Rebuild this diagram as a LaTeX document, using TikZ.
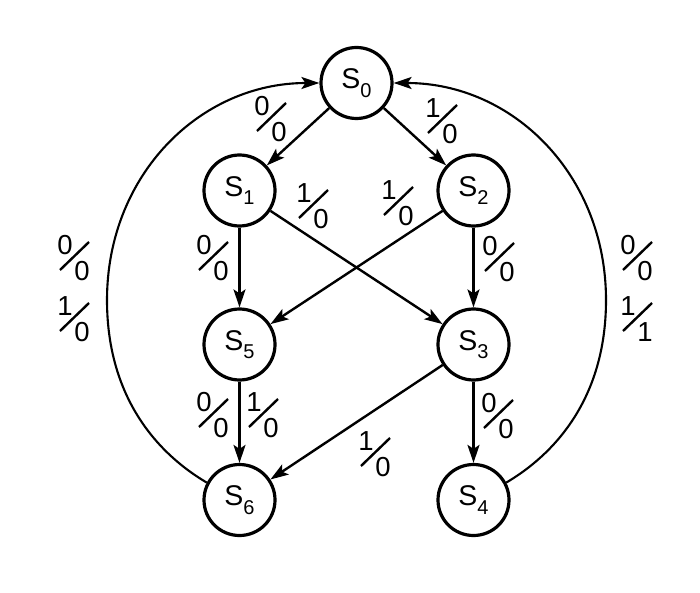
\documentclass[tikz,border=0pt]{standalone}
\usepackage{fontspec}
\setmainfont{Liberation Sans}
\usetikzlibrary{arrows.meta}
\newcommand\fraclab[5]{%
  \begin{scope}[shift={(#2,#3)}]
    \node[dig] (#1n) at (-9,-12) {#4};
    \node[dig] (#1d) at (8,14) {#5};
    \draw[slash] (-14,13) -- (15,-15);
  \end{scope}}
\newcommand\subidx[1]{\raisebox{-8.5pt}{\fontsize{20}{20}\selectfont #1}}
\tikzset{
  state/.style={circle, draw, line width=3.2pt, minimum size=71pt, inner sep=0pt,
    font=\fontsize{28.5}{28.5}\selectfont},
  dig/.style={inner sep=0pt, font=\fontsize{27.5}{27.5}\selectfont},
  slash/.style={line width=2.4pt},
  arr/.style={line width=2.4pt, -{Stealth[length=18pt,width=12pt,inset=4pt]}},
  arcline/.style={line width=2.1pt, -{Stealth[length=18pt,width=12pt,inset=4pt]}}
}
\begin{document}
\begin{tikzpicture}[x=1pt,y=-1pt]
\useasboundingbox (0,0) rectangle (700,593);
\node[state] (S0) at (356.5,83) {S\subidx{0}};
\node[state] (S1) at (239.5,190.5) {S\subidx{1}};
\node[state] (S2) at (473.5,190.5) {S\subidx{2}};
\node[state] (S5) at (239.5,344.5) {S\subidx{5}};
\node[state] (S3) at (473.5,344.5) {S\subidx{3}};
\node[state] (S6) at (239.5,500) {S\subidx{6}};
\node[state] (S4) at (473.5,500) {S\subidx{4}};

\draw[arr] (S0) -- (S1);
\draw[arr] (S0) -- (S2);
\draw[arr] (S1) -- (S5);
\draw[arr] (S2) -- (S3);
\draw[arr] (S1) -- (S3);
\draw[arr] (S2) -- (S5);
\draw[arr] (S5) -- (S6);
\draw[arr] (S3) -- (S4);
\draw[arr] (S3) -- (S6);
\draw[arcline] (S6.152) .. controls (160,455) and (107,400) .. (107,300)
  .. controls (107,175) and (200,83) .. (S0.west);
\draw[arcline] (S4.28) .. controls (553,455) and (606,400) .. (606,300)
  .. controls (606,175) and (513,83) .. (S0.east);

\fraclab{la}{271}{118}{0}{0}
\fraclab{lb}{442}{120}{1}{0}
\fraclab{lc}{313}{205}{1}{0}
\fraclab{ld}{398}{202}{1}{0}
\fraclab{le}{213}{257}{0}{0}
\fraclab{lf}{499}{258}{0}{0}
\fraclab{lg}{74}{257}{0}{0}
\fraclab{lh}{74}{318}{1}{0}
\fraclab{li}{637}{257}{0}{0}
\fraclab{lj}{637}{318}{1}{1}
\fraclab{lk}{213}{414}{0}{0}
\fraclab{ll}{263}{414}{1}{0}
\fraclab{lm}{375}{453}{1}{0}
\fraclab{ln}{498}{415}{0}{0}
\end{tikzpicture}
\end{document}
